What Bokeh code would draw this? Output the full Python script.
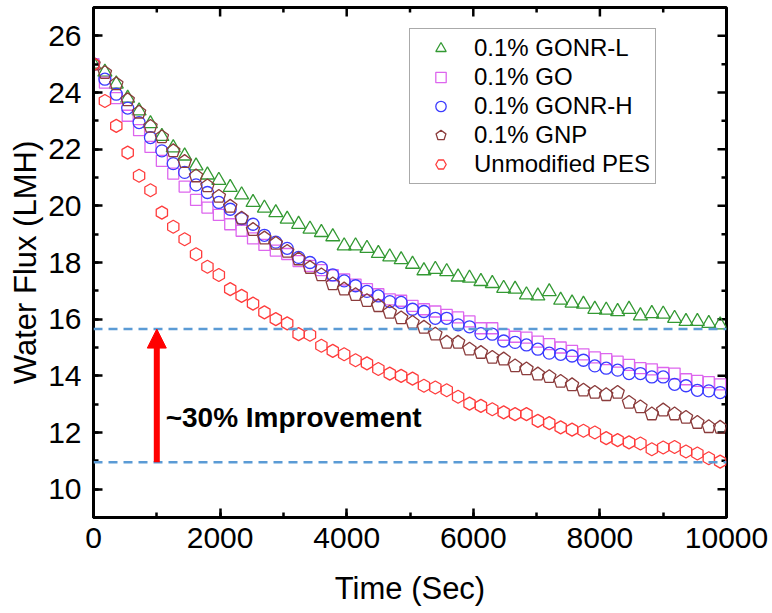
import math
from bokeh.plotting import figure
from bokeh.models import (Range1d, SingleIntervalTicker, Span, Arrow,
                          NormalHead, Label, Legend, LegendItem, ColumnDataSource)
from bokeh.embed import file_html
from bokeh.resources import INLINE

# ---------------- data ----------------
time_sec = [0, 180, 360, 540, 720, 900, 1080, 1260, 1440, 1620,
            1800, 1980, 2160, 2340, 2520, 2700, 2880, 3060, 3240, 3420,
            3600, 3780, 3960, 4140, 4320, 4500, 4680, 4860, 5040, 5220,
            5400, 5580, 5760, 5940, 6120, 6300, 6480, 6660, 6840, 7020,
            7200, 7380, 7560, 7740, 7920, 8100, 8280, 8460, 8640, 8820,
            9000, 9180, 9360, 9540, 9720, 9900]

flux_gonr_l = [25.0, 24.72, 24.3, 23.8, 23.35, 22.9, 22.45, 22.05, 21.76, 21.41,
               21.09, 20.9, 20.65, 20.39, 20.12, 19.92, 19.76, 19.53, 19.35, 19.18,
               19.06, 18.91, 18.59, 18.59, 18.5, 18.32, 18.2, 18.1, 17.94, 17.71,
               17.76, 17.68, 17.49, 17.45, 17.33, 17.26, 17.09, 17.06, 16.86, 16.82,
               16.97, 16.67, 16.57, 16.53, 16.35, 16.32, 16.27, 16.35, 16.12, 16.2,
               16.18, 16.03, 15.92, 15.92, 15.85, 15.8]

flux_go = [25.0, 24.35, 23.8, 23.18, 22.67, 22.08, 21.59, 21.14, 20.68, 20.21,
           19.94, 19.68, 19.35, 19.12, 18.85, 18.62, 18.42, 18.3, 18.05, 17.88,
           17.73, 17.55, 17.4, 17.22, 17.06, 16.88, 16.7, 16.65, 16.47, 16.35,
           16.27, 16.15, 16.06, 15.92, 15.68, 15.68, 15.45, 15.38, 15.35, 15.21,
           15.12, 15.0, 14.88, 14.76, 14.65, 14.59, 14.5, 14.39, 14.27, 14.23,
           14.1, 14.08, 13.88, 13.82, 13.78, 13.7]

flux_gonr_h = [25.0, 24.47, 23.94, 23.45, 22.94, 22.41, 21.94, 21.49, 21.18, 20.74,
               20.47, 20.12, 19.88, 19.55, 19.35, 18.96, 18.72, 18.5, 18.18, 18.0,
               17.82, 17.56, 17.35, 17.18, 16.98, 16.82, 16.62, 16.59, 16.35, 16.27,
               16.03, 16.03, 15.8, 15.73, 15.49, 15.47, 15.23, 15.18, 15.09, 14.94,
               14.8, 14.76, 14.7, 14.55, 14.35, 14.27, 14.2, 14.08, 14.08, 13.96,
               13.96, 13.7, 13.65, 13.49, 13.47, 13.41]

flux_gnp = [25.0, 24.7, 24.3, 23.74, 23.3, 22.8, 22.43, 21.94, 21.56, 21.05,
            20.7, 20.33, 19.98, 19.56, 19.16, 18.86, 18.67, 18.39, 18.12, 17.82,
            17.56, 17.24, 17.06, 16.86, 16.65, 16.47, 16.24, 16.04, 15.88, 15.71,
            15.47, 15.18, 15.18, 14.94, 14.82, 14.65, 14.59, 14.35, 14.24, 14.06,
            13.97, 13.8, 13.68, 13.49, 13.41, 13.33, 13.41, 13.06, 12.9, 12.65,
            12.79, 12.65, 12.53, 12.35, 12.2, 12.18]

flux_pes = [25.0, 23.7, 22.82, 21.88, 21.06, 20.55, 19.76, 19.26, 18.82, 18.29,
            17.85, 17.56, 17.06, 16.82, 16.55, 16.24, 16.0, 15.85, 15.47, 15.45,
            15.06, 14.88, 14.76, 14.55, 14.44, 14.24, 14.08, 14.0, 13.9, 13.65,
            13.59, 13.49, 13.26, 13.02, 12.94, 12.82, 12.71, 12.65, 12.65, 12.41,
            12.33, 12.18, 12.1, 12.06, 12.0, 11.8, 11.73, 11.65, 11.61, 11.41,
            11.47, 11.49, 11.33, 11.26, 11.09, 10.97]

series_labels = ["0.1% GONR-L", "0.1% GO", "0.1% GONR-H", "0.1% GNP", "Unmodified PES"]
upper_ref = 15.65
lower_ref = 10.95
arrow_time = 1000
annotation_text = "~30% Improvement"
x_major_ticks = [0, 2000, 4000, 6000, 8000, 10000]
x_minor_ticks = [1000, 3000, 5000, 7000, 9000]
y_major_ticks = [10, 12, 14, 16, 18, 20, 22, 24, 26]
y_minor_ticks = [11, 13, 15, 17, 19, 21, 23, 25]
x_tick_labels = ["0", "2000", "4000", "6000", "8000", "10000"]
y_tick_labels = ["10", "12", "14", "16", "18", "20", "22", "24", "26"]
x_min, x_max = 0, 10000
y_min, y_max = 9, 27

# ---------------- figure ----------------
FONT = "Liberation Sans"
p = figure(width=772, height=613, output_backend="svg", toolbar_location=None,
           x_range=Range1d(x_min, x_max), y_range=Range1d(y_min, y_max),
           title_location=None)
p.min_border_left = 93
p.min_border_right = 46
p.min_border_top = 7
p.min_border_bottom = 96
p.background_fill_color = "white"
p.border_fill_color = "white"
p.xgrid.visible = False
p.ygrid.visible = False
p.outline_line_color = "black"
p.outline_line_width = 3

p.xaxis.ticker = SingleIntervalTicker(interval=2000, num_minor_ticks=2)
p.yaxis.ticker = SingleIntervalTicker(interval=2, num_minor_ticks=2)
p.xaxis.major_label_overrides = dict(zip(x_major_ticks, x_tick_labels))
p.yaxis.major_label_overrides = dict(zip(y_major_ticks, y_tick_labels))
p.xaxis.axis_label = "Time (Sec)"
p.yaxis.axis_label = "Water Flux (LMH)"
for ax in p.xaxis + p.yaxis:
    ax.axis_line_color = "black"
    ax.axis_line_width = 3
    ax.major_tick_line_color = "black"
    ax.major_tick_line_width = 2.5
    ax.minor_tick_line_color = "black"
    ax.minor_tick_line_width = 2.5
    ax.major_tick_in = 9
    ax.major_tick_out = 0
    ax.minor_tick_in = 5
    ax.minor_tick_out = 0
    ax.major_label_text_font = FONT
    ax.major_label_text_font_size = "30px"
    ax.major_label_text_color = "black"
    ax.axis_label_text_font = FONT
    ax.axis_label_text_font_size = "31px"
    ax.axis_label_text_font_style = "normal"
    ax.axis_label_text_color = "black"
p.xaxis.major_label_standoff = 10
p.yaxis.major_label_standoff = 12
p.xaxis.axis_label_standoff = 20
p.yaxis.axis_label_standoff = 2

# mirrored inward ticks on the top and right frame edges (clipped to frame)
tick_kw = dict(marker="dash", line_color="black", line_width=2.5)
p.scatter(x=x_major_ticks, y=[y_max] * len(x_major_ticks), size=18, angle=math.pi / 2, **tick_kw)
p.scatter(x=x_minor_ticks, y=[y_max] * len(x_minor_ticks), size=10, angle=math.pi / 2, **tick_kw)
p.scatter(x=[x_max] * len(y_major_ticks), y=y_major_ticks, size=18, **tick_kw)
p.scatter(x=[x_max] * len(y_minor_ticks), y=y_minor_ticks, size=10, **tick_kw)

# ---------------- reference lines & arrow ----------------
for loc in (upper_ref, lower_ref):
    p.add_layout(Span(location=loc, dimension="width", line_color="#5b9bd5",
                      line_width=2.5, line_dash="9 6"))

p.add_layout(Arrow(end=NormalHead(size=19, fill_color="#ff0000", line_color="#ff0000", line_width=1),
                   x_start=arrow_time, y_start=lower_ref, x_end=arrow_time, y_end=upper_ref,
                   line_color="#ff0000", line_width=6))

p.add_layout(Label(x=1140, y=12.52, text=annotation_text, text_font=FONT,
                   text_font_size="28px", text_font_style="bold", text_color="black",
                   text_baseline="middle", text_align="left"))

# ---------------- data markers ----------------
colors = ["#339933", "#dd66ee", "#3b3bff", "#8b3c3c", "#ff3c3c"]
LW = 1.3
src = ColumnDataSource(dict(t=time_sec, a=flux_gonr_l, b=flux_go, c=flux_gonr_h,
                            d=flux_gnp, e=flux_pes))

r1 = p.scatter("t", "a", source=src, marker="triangle", size=14, fill_color=None,
               line_color=colors[0], line_width=LW)
r2 = p.scatter("t", "b", source=src, marker="square", size=11, fill_color=None,
               line_color=colors[1], line_width=LW)
r3 = p.scatter("t", "c", source=src, marker="circle", size=12, fill_color=None,
               line_color=colors[2], line_width=LW)
if hasattr(p, "ngon"):
    r4 = p.ngon("t", "d", source=src, radius=7, radius_units="screen", n=5,
                fill_color=None, line_color=colors[3], line_width=LW)
else:
    r4 = p.scatter("t", "d", source=src, marker="star", size=13, fill_color=None,
                   line_color=colors[3], line_width=LW)
r5 = p.scatter("t", "e", source=src, marker="hex", size=13, angle=math.pi / 6,
               fill_color=None, line_color=colors[4], line_width=LW)

legend = Legend(items=[LegendItem(label=series_labels[0], renderers=[r1]),
                       LegendItem(label=series_labels[1], renderers=[r2]),
                       LegendItem(label=series_labels[2], renderers=[r3]),
                       LegendItem(label=series_labels[3], renderers=[r4]),
                       LegendItem(label=series_labels[4], renderers=[r5])],
                location=(316, 333), orientation="vertical",
                label_text_font=FONT, label_text_font_size="24px",
                label_text_color="black", glyph_width=51, glyph_height=26,
                label_height=26, spacing=1, padding=5, margin=0,
                label_standoff=8, border_line_color="#555555",
                border_line_width=1.3, background_fill_color="white",
                background_fill_alpha=1.0)
p.add_layout(legend, "center")

open("out.html", "w").write(file_html(p, INLINE))
